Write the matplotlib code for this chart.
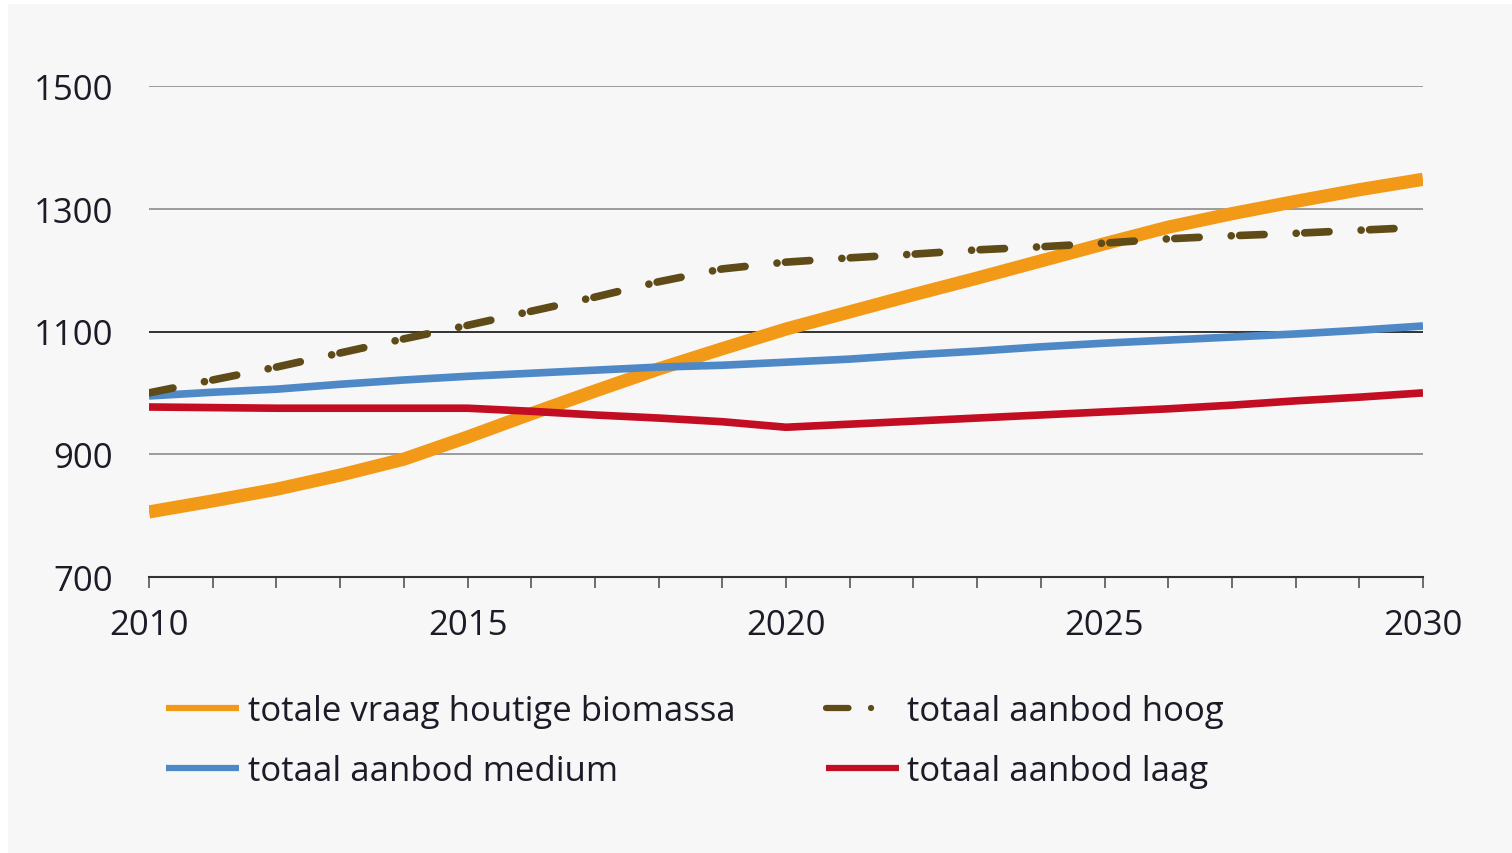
"""Vraag en aanbod houtige biomassa 2010-2030
"""
import matplotlib.pyplot as plt
import matplotlib.patches as mpatches
from matplotlib.ticker import MultipleLocator
import numpy as np

plt.rcParams['font.family'] = ['Open Sans', 'DejaVu Sans']

years = np.arange(2010, 2031)
vraag = [806, 824, 843, 866, 892, 928, 966, 1003, 1039, 1072, 1104,
         1132, 1160, 1187, 1215, 1243, 1270, 1292, 1312, 1331, 1348]
hoog = [1000, 1021, 1042, 1065, 1088, 1110, 1133, 1156, 1181, 1202, 1213,
        1220, 1226, 1233, 1238, 1244, 1251, 1256, 1260, 1265, 1270]
medium = [995, 1001, 1006, 1014, 1021, 1027, 1032, 1037, 1042, 1045, 1050,
          1055, 1062, 1068, 1075, 1081, 1086, 1091, 1096, 1102, 1109]
laag = [977, 976, 975, 975, 975, 975, 970, 964, 959, 953, 944,
        949, 954, 959, 964, 969, 974, 980, 987, 993, 1000]

yticks = [700, 900, 1100, 1300, 1500]
xticks = [2010, 2015, 2020, 2025, 2030]

text_col = '#1c1c28'

fig = plt.figure(figsize=(15.12, 8.54), dpi=100)
fig.patches.append(mpatches.Rectangle((8 / 1512, 0), 1, 1 - 5 / 854,
                                      transform=fig.transFigure,
                                      facecolor='#f7f7f7', edgecolor='none',
                                      zorder=-5))
ax = fig.add_axes([149 / 1512, 1 - 578 / 854, (1423 - 149) / 1512, (578 - 87) / 854])
ax.set_facecolor('none')
ax.set_zorder(2)

for v in yticks[1:]:
    ax.axhline(v, color='#111111' if v == 1100 else '#8c8c8c', lw=1.2, zorder=1)

ax.plot(years, vraag, color='#f29a17', lw=9.5, solid_capstyle='butt', zorder=3,
        label='totale vraag houtige biomassa')
ax.plot(years, medium, color='#4f88c6', lw=5.5, solid_capstyle='butt', zorder=3,
        label='totaal aanbod medium')
ax.plot(years, hoog, color='#5f4b17', lw=5.5, dash_capstyle='round', zorder=4,
        linestyle=(0, (3.2, 4.2, 0.01, 1.1)), label='totaal aanbod hoog')
ax.plot(years, laag, color='#c30d23', lw=5.5, solid_capstyle='butt', zorder=3,
        label='totaal aanbod laag')

ax.set_xlim(2010, 2030)
ax.set_ylim(700, 1500)
ax.set_yticks(yticks)
ax.set_xticks(xticks)
ax.xaxis.set_minor_locator(MultipleLocator(1))
for s in ['top', 'right', 'left']:
    ax.spines[s].set_visible(False)
ax.spines['bottom'].set_color('#333333')
ax.spines['bottom'].set_linewidth(1.5)
ax.tick_params(axis='y', length=0, pad=26, labelsize=25, labelcolor=text_col)
ax.tick_params(axis='x', which='both', direction='out', length=8, width=1.2,
               color='#555555', pad=14, labelsize=25, labelcolor=text_col)

h, l = ax.get_legend_handles_labels()
fig.legend(h, l, ncol=2, frameon=False,
           loc='upper left', bbox_to_anchor=(135 / 1512, 1 - 664 / 854),
           fontsize=25, handlelength=2.1, handletextpad=0.25, columnspacing=2.6,
           labelspacing=0.75, labelcolor=text_col)
leg = fig.legends[0]
for line in leg.get_lines():
    line.set_linewidth(4.5)
    if line.get_label() == 'totaal aanbod hoog':
        line.set_linestyle((0, (3.6, 3.6, 0.01, 10)))

fig.savefig('out.png', dpi=100)
